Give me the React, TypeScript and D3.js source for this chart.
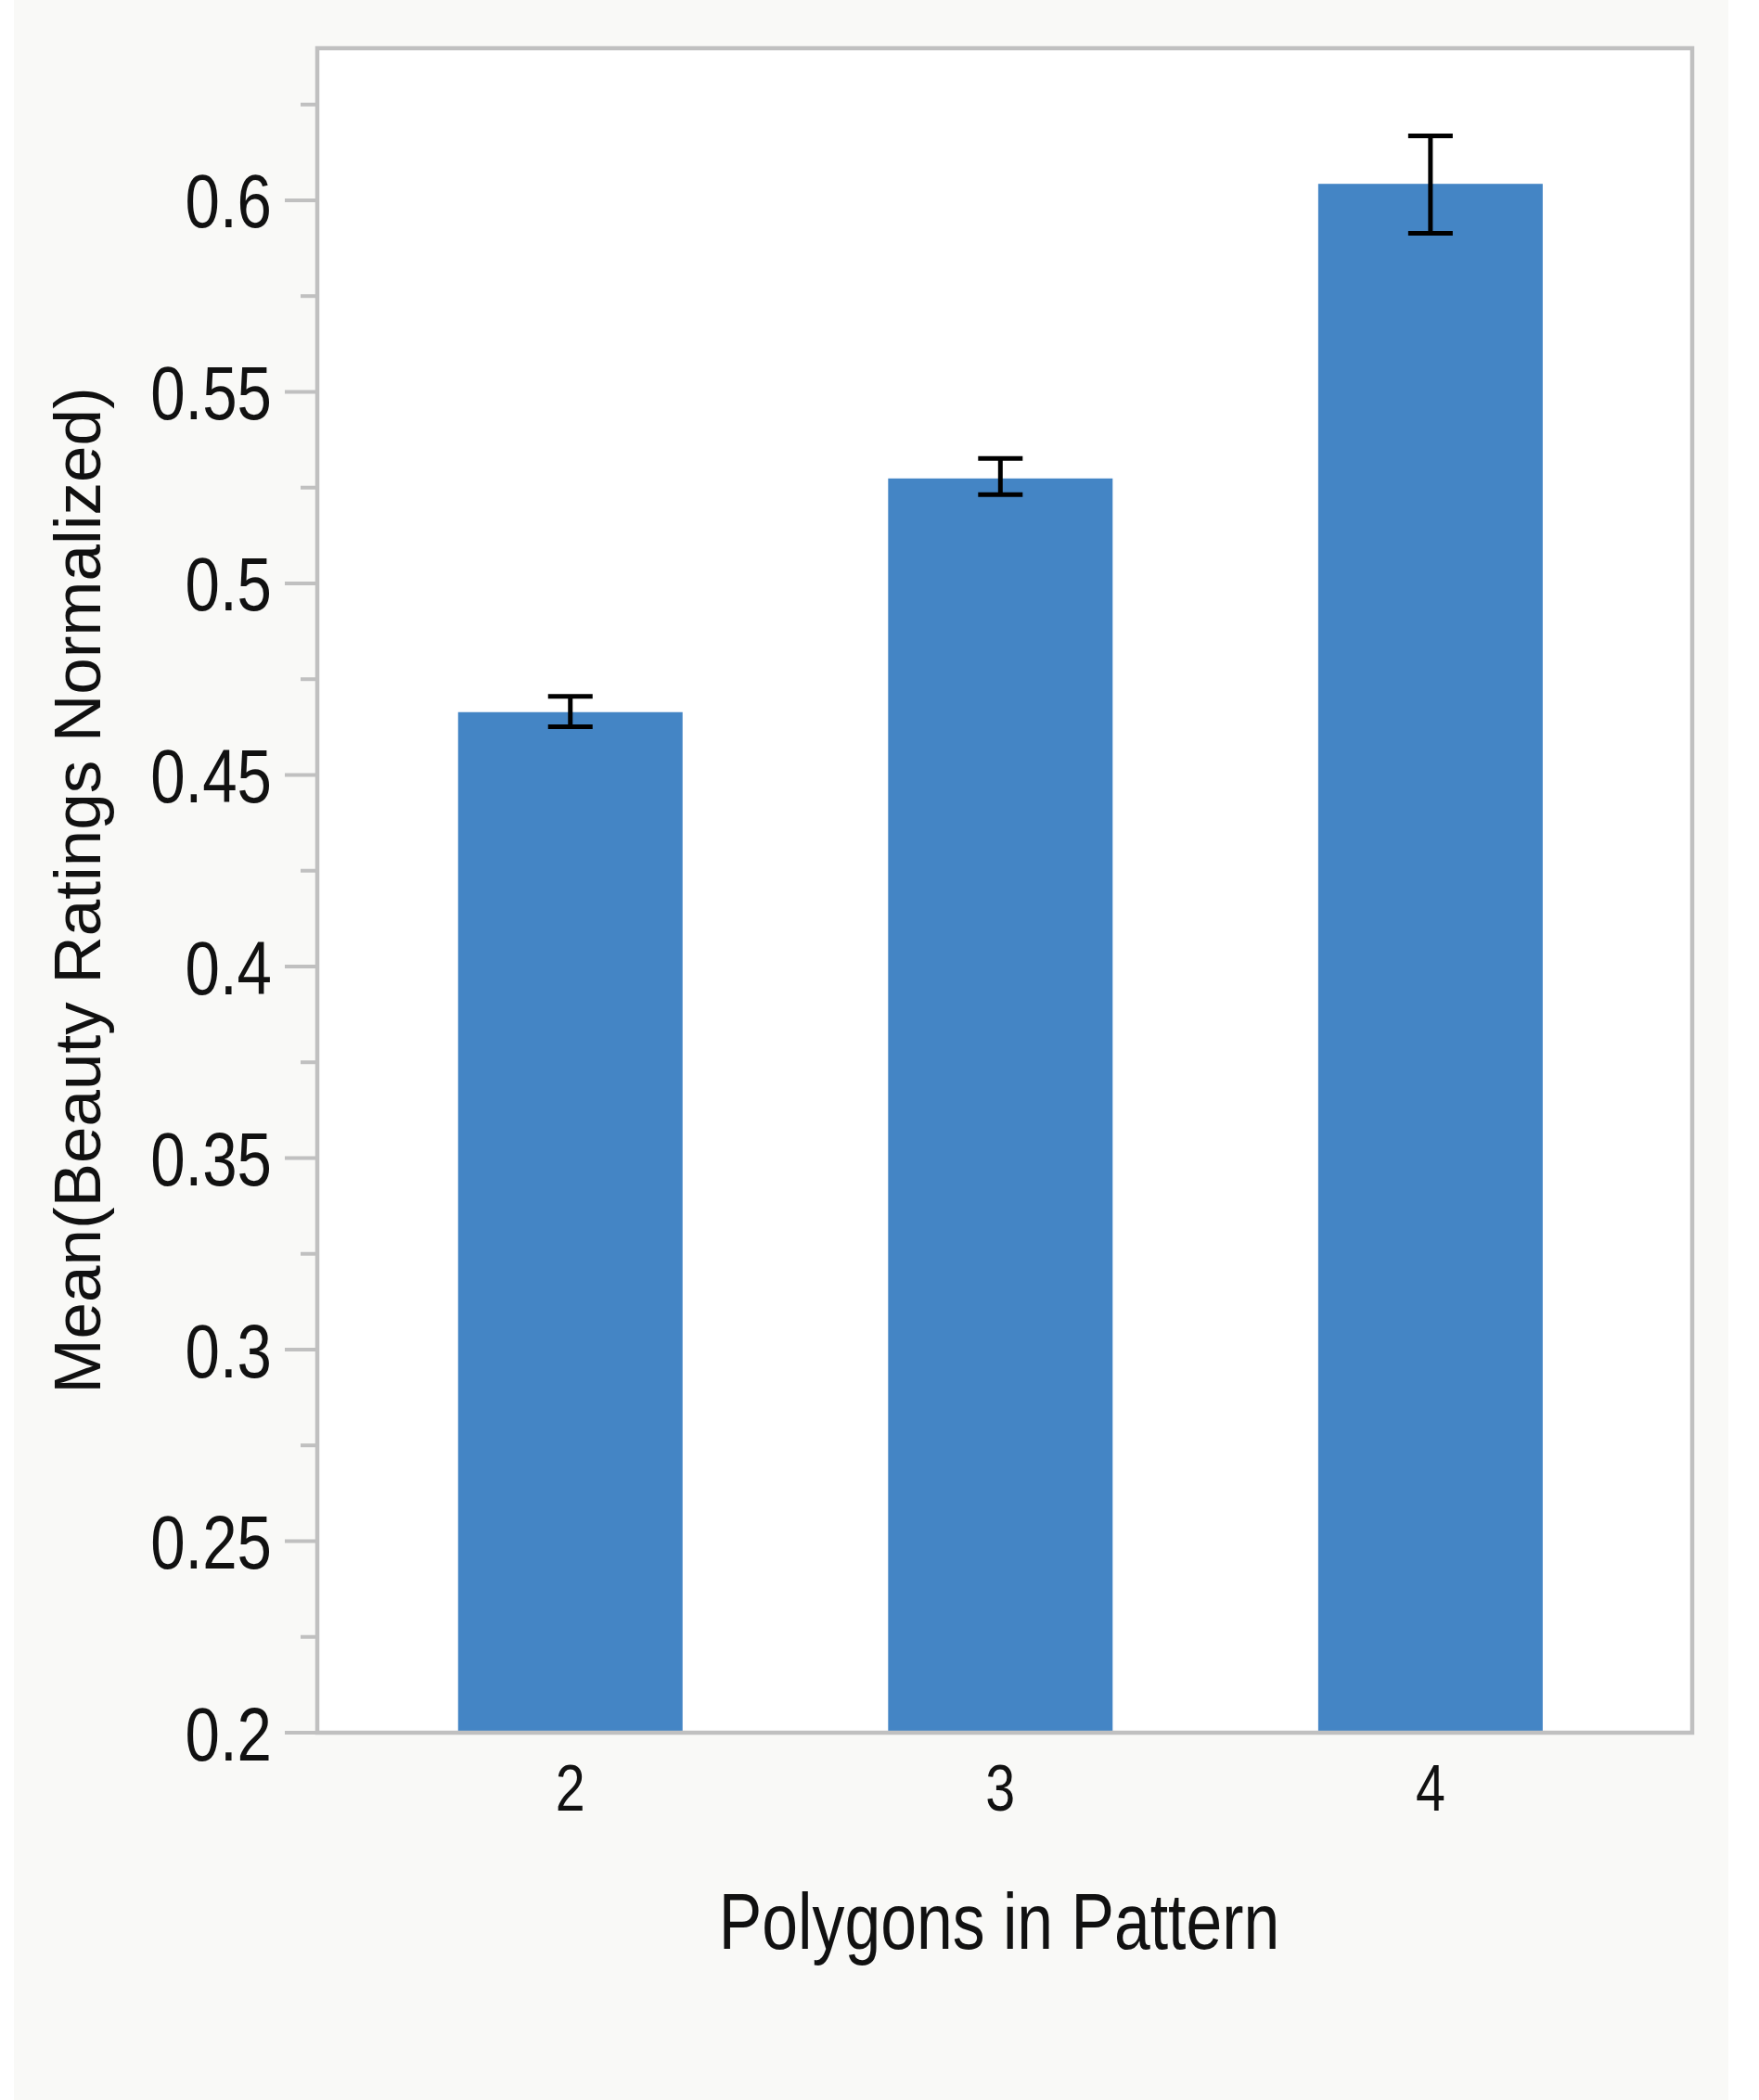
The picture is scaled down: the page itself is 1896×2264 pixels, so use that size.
import React, { useRef, useEffect } from "react";
import * as d3 from "d3";

// values
const categories = ["2", "3", "4"];
const means = [0.4664, 0.5274, 0.6043];
const errLow = [0.4626, 0.5232, 0.5914];
const errHigh = [0.4705, 0.5326, 0.6168];
const majorTicks = [0.2, 0.25, 0.3, 0.35, 0.4, 0.45, 0.5, 0.55, 0.6];
const minorTicks = [0.225, 0.275, 0.325, 0.375, 0.425, 0.475, 0.525, 0.575, 0.625];

const xTitle = "Polygons in Pattern";
const yTitle = "Mean(Beauty Ratings Normalized)";

const App: React.FC = () => {
  const svgRef = useRef<SVGSVGElement | null>(null);

  const width = 1896;
  const height = 2264;
  const margin = { top: 52, right: 72, bottom: 396, left: 342 };
  const font = "'Liberation Sans', Arial, Helvetica, sans-serif";
  const squeeze = 0.82; // no narrow face installed, squeeze the regular one

  useEffect(() => {
    if (!svgRef.current) return;
    const svg = d3.select(svgRef.current);
    svg.selectAll("*").remove();

    const x0 = margin.left;
    const x1 = width - margin.right;
    const y0 = margin.top;
    const y1 = height - margin.bottom;

    const xScale = d3.scaleBand<string>()
      .domain(categories)
      .range([x0, x1])
      .paddingInner(0.478)
      .paddingOuter(0.3375)
      .align(0.485);
    const yScale = d3.scaleLinear().domain([0.2, 0.6397]).range([y1, y0]);

    // page background
    svg.append("rect")
      .attr("x", 15).attr("y", 0)
      .attr("width", 1848).attr("height", height)
      .attr("fill", "#f9f9f7");

    // plot area
    svg.append("rect")
      .attr("x", x0).attr("y", y0)
      .attr("width", x1 - x0).attr("height", y1 - y0)
      .attr("fill", "#ffffff");

    // bars
    svg.selectAll(".bar").data(means).enter().append("rect")
      .attr("class", "bar")
      .attr("x", (_, i) => xScale(categories[i]) as number)
      .attr("y", (d) => yScale(d))
      .attr("width", xScale.bandwidth())
      .attr("height", (d) => yScale(0.2) - yScale(d))
      .attr("fill", "#4485c5");

    // error bars
    const capW = 48;
    categories.forEach((c, i) => {
      const cx = (xScale(c) as number) + xScale.bandwidth() / 2;
      const g = svg.append("g").attr("stroke", "#000").attr("stroke-width", 5);
      g.append("line")
        .attr("x1", cx).attr("x2", cx)
        .attr("y1", yScale(errHigh[i])).attr("y2", yScale(errLow[i]));
      g.append("line")
        .attr("x1", cx - capW / 2).attr("x2", cx + capW / 2)
        .attr("y1", yScale(errHigh[i])).attr("y2", yScale(errHigh[i]));
      g.append("line")
        .attr("x1", cx - capW / 2).attr("x2", cx + capW / 2)
        .attr("y1", yScale(errLow[i])).attr("y2", yScale(errLow[i]));
    });

    // frame
    svg.append("rect")
      .attr("x", x0).attr("y", y0)
      .attr("width", x1 - x0).attr("height", y1 - y0)
      .attr("fill", "none")
      .attr("stroke", "#c0c0c0")
      .attr("stroke-width", 4.5);

    // y axis ticks
    svg.selectAll(".ymajor").data(majorTicks).enter().append("line")
      .attr("class", "ymajor")
      .attr("x1", x0 - 35).attr("x2", x0)
      .attr("y1", (d) => yScale(d)).attr("y2", (d) => yScale(d))
      .attr("stroke", "#c0c0c0").attr("stroke-width", 4);
    svg.selectAll(".yminor").data(minorTicks).enter().append("line")
      .attr("class", "yminor")
      .attr("x1", x0 - 18).attr("x2", x0)
      .attr("y1", (d) => yScale(d)).attr("y2", (d) => yScale(d))
      .attr("stroke", "#c0c0c0").attr("stroke-width", 4);

    svg.selectAll(".ylabel").data(majorTicks).enter().append("text")
      .attr("class", "ylabel")
      .attr("transform", (d) => `translate(${x0 - 49},${yScale(d)}) scale(${squeeze},1)`)
      .attr("dy", "0.36em")
      .attr("text-anchor", "end")
      .attr("font-family", font)
      .attr("font-size", 82)
      .attr("fill", "#111")
      .text((d) => d3.format("")(d));

    // x axis labels
    svg.selectAll(".xlabel").data(categories).enter().append("text")
      .attr("class", "xlabel")
      .attr("transform", (d) => `translate(${(xScale(d) as number) + xScale.bandwidth() / 2},${y1 + 84}) scale(${squeeze},1)`)
      .attr("text-anchor", "middle")
      .attr("font-family", font)
      .attr("font-size", 70)
      .attr("fill", "#111")
      .text((d) => d);

    // axis titles
    svg.append("text")
      .attr("transform", `translate(${(x0 + x1) / 2 - 6},${y1 + 233}) scale(${squeeze},1)`)
      .attr("text-anchor", "middle")
      .attr("font-family", font)
      .attr("font-size", 85)
      .attr("fill", "#111")
      .text(xTitle);

    svg.append("text")
      .attr("transform", `translate(108,${(y0 + y1) / 2}) rotate(-90)`)
      .attr("text-anchor", "middle")
      .attr("font-family", font)
      .attr("font-size", 71)
      .attr("fill", "#111")
      .text(yTitle);
  }, []);

  return (
    <div style={{ position: "absolute", left: 0, top: 0 }}>
      <svg ref={svgRef} width={width} height={height} style={{ display: "block", background: "#ffffff" }} />
    </div>
  );
};

export default App;
